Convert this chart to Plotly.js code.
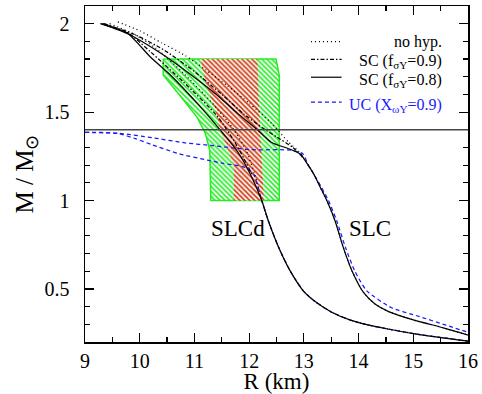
<!DOCTYPE html>
<html><head><meta charset="utf-8">
<script src="https://cdn.plot.ly/plotly-3.0.1.min.js"></script>
<style>html,body{margin:0;padding:0;background:#fff}</style>
</head><body><div id="chart" style="width:482px;height:394px"></div>
<script>
const FONT = "Liberation Serif, serif";

// constraint regions (R in km, M in Msun)
const greenR = [10.43, 12.49, 12.55, 12.55, 11.30, 11.28, 11.20, 11.05, 10.80, 10.43, 10.43];
const greenM = [1.80, 1.80, 1.71, 1.00, 1.00, 1.284, 1.38, 1.47, 1.568, 1.71, 1.80];
const redR = [11.11, 12.15, 12.20, 12.27, 11.72, 11.72, 11.62, 11.47, 11.38, 11.22, 11.11];
const redM = [1.80, 1.80, 1.40, 1.00, 1.00, 1.20, 1.28, 1.40, 1.51, 1.65, 1.80];

const NS_MASS = 1.4;

// shared nucleonic low-mass branches
const slcdLowR = [12.23, 12.35, 12.54, 12.75, 12.99, 13.2, 13.5, 13.84, 14.15, 14.51, 15.06, 16.0];
const slcdLowM = [1.0, 0.886, 0.735, 0.602, 0.489, 0.43, 0.37, 0.325, 0.298, 0.275, 0.245, 0.205];
const slcLowR = [13.1, 13.18, 13.3, 13.42, 13.57, 13.72, 13.88, 14.09, 14.3, 14.55, 15.0, 15.55, 16.0];
const slcLowM = [1.19, 1.15, 1.075, 1.0, 0.886, 0.735, 0.602, 0.48, 0.415, 0.372, 0.325, 0.28, 0.239];

// SLCd model, high-mass parts
const slcdNoHypR = [9.45, 9.9, 10.3, 10.8, 11.3, 11.7, 11.95, 12.1];
const slcdNoHypM = [2.0, 1.94, 1.86, 1.72, 1.56, 1.41, 1.28, 1.15];
const slcdSC09R = [9.33, 9.8, 10.2, 10.8, 11.41, 11.72, 11.9, 12.05];
const slcdSC09M = [2.0, 1.945, 1.84, 1.67, 1.48, 1.34, 1.24, 1.15];
const slcdSC08R = [9.28, 9.77, 10.2, 10.56, 11.11, 11.47, 11.78, 12.02];
const slcdSC08M = [2.0, 1.947, 1.81, 1.71, 1.53, 1.40, 1.28, 1.15];
const slcdUCR = [9.0, 9.3, 9.62, 9.92, 10.23, 10.71, 11.26, 11.53, 11.9, 12.08];
const slcdUCM = [1.385, 1.385, 1.378, 1.35, 1.315, 1.265, 1.227, 1.21, 1.19, 1.15];

// SLC model, high-mass parts
const slcNoHypR = [9.6, 10.0, 10.41, 10.83, 11.2, 11.6, 12.0, 12.4, 12.72, 12.9, 13.0];
const slcNoHypM = [2.01, 1.96, 1.89, 1.82, 1.74, 1.65, 1.55, 1.44, 1.33, 1.28, 1.237];
const slcSC09R = [9.35, 9.9, 10.45, 11.0, 11.5, 11.9, 12.25, 12.5, 12.8, 13.0];
const slcSC09M = [2.0, 1.94, 1.85, 1.73, 1.6, 1.49, 1.41, 1.36, 1.30, 1.237];
const slcSC08R = [9.3, 9.8, 10.4, 10.9, 11.4, 11.8, 12.15, 12.4, 12.75, 12.95, 13.0];
const slcSC08M = [2.0, 1.94, 1.83, 1.72, 1.6, 1.49, 1.40, 1.33, 1.29, 1.26, 1.237];
const slcUCR = [9.0, 9.62, 10.23, 10.83, 11.35, 12.02, 12.75, 12.98, 13.08, 13.2, 13.32, 13.45, 13.6, 13.76, 13.93, 14.15, 14.6, 15.1, 15.6, 16.0];
const slcUCM = [1.385, 1.38, 1.355, 1.326, 1.31, 1.288, 1.285, 1.265, 1.2, 1.14, 1.075, 1.0, 0.886, 0.735, 0.602, 0.489, 0.394, 0.345, 0.295, 0.255];

const legendNames = ['no hyp.', 'SC (f<sub>σY</sub>=0.9)', 'SC (f<sub>σY</sub>=0.8)', 'UC (X<sub>ωY</sub>=0.9)'];

const DOT = '1px,3px', DASHDOT = '4px,2px,1.5px,2px', DASH = '4px,3px';
const GREEN = '#22ee22', RED = '#d03208', BLUE = '#1a1aff';

function line(x, y, dash, color, w) {
  return {x: x, y: y, type: 'scatter', mode: 'lines', hoverinfo: 'skip', showlegend: false,
    line: {color: color, width: w || 1.25, dash: dash, shape: 'spline', smoothing: 0.6}};
}
const cat = (a, b) => a.concat(b);

const traces = [
  {x: greenR, y: greenM, type: 'scatter', mode: 'lines', fill: 'toself', showlegend: false, hoverinfo: 'skip',
   line: {color: GREEN, width: 1.5}, fillcolor: 'rgba(0,0,0,0)',
   fillpattern: {shape: '\\', fgcolor: GREEN, bgcolor: 'white', size: 3.5, solidity: 0.45, fillmode: 'replace'}},
  {x: redR, y: redM, type: 'scatter', mode: 'lines', fill: 'toself', showlegend: false, hoverinfo: 'skip',
   line: {color: 'rgba(0,0,0,0)', width: 0}, fillcolor: 'rgba(0,0,0,0)',
   fillpattern: {shape: '\\', fgcolor: RED, bgcolor: 'white', size: 3.5, solidity: 0.45, fillmode: 'replace'}},
  line(cat(slcdUCR, slcdLowR), cat(slcdUCM, slcdLowM), DASH, BLUE),
  line(slcUCR, slcUCM, DASH, BLUE),
  line(cat(slcdNoHypR, slcdLowR), cat(slcdNoHypM, slcdLowM), DOT, 'black'),
  line(slcdSC09R, slcdSC09M, DASHDOT, 'black'),
  line(cat(slcdSC08R, slcdLowR), cat(slcdSC08M, slcdLowM), 'solid', 'black'),
  line(cat(slcNoHypR, slcLowR), cat(slcNoHypM, slcLowM), DOT, 'black'),
  line(slcSC09R, slcSC09M, DASHDOT, 'black'),
  line(cat(slcSC08R, slcLowR), cat(slcSC08M, slcLowM), 'solid', 'black')
];

// legend (drawn manually to match right-aligned text)
const legY = [0.894, 0.841, 0.788, 0.714];
const legTextY = [0.894, 0.834, 0.778, 0.704];
const legDash = [DOT, DASHDOT, 'solid', DASH];
const legColor = ['black', 'black', 'black', BLUE];
const shapes = [
  {type: 'line', xref: 'paper', x0: 0, x1: 1, yref: 'y', y0: NS_MASS, y1: NS_MASS,
   line: {color: '#444', width: 1.5}}
];
const annotations = [];
for (let i = 0; i < legendNames.length; i++) {
  shapes.push({type: 'line', xref: 'paper', yref: 'paper', x0: 0.590, x1: 0.670, y0: legY[i], y1: legY[i],
    line: {color: legColor[i], width: 1.2, dash: legDash[i]}});
  annotations.push({xref: 'paper', yref: 'paper', x: 0.937, y: legTextY[i], xanchor: 'right', yanchor: 'middle',
    text: legendNames[i], showarrow: false, font: {family: FONT, size: 16, color: legColor[i]}});
}
annotations.push({x: 11.8, y: 0.84, text: 'SLCd', showarrow: false, font: {family: FONT, size: 23, color: 'black'}});
annotations.push({x: 14.2, y: 0.84, text: 'SLC', showarrow: false, font: {family: FONT, size: 23, color: 'black'}});

const axisCommon = {showgrid: false, zeroline: false, showline: true, linecolor: 'black', linewidth: 1.5,
  mirror: 'ticks', ticks: 'inside', ticklen: 9, tickwidth: 1.2, tickcolor: 'black',
  tickfont: {family: FONT, size: 20, color: 'black'}};

const layout = {
  width: 482, height: 394,
  margin: {l: 85, r: 14, t: 6, b: 52},
  paper_bgcolor: 'white', plot_bgcolor: 'white',
  showlegend: false,
  font: {family: FONT},
  xaxis: Object.assign({}, axisCommon, {range: [9, 16], dtick: 1, tick0: 9,
    minor: {dtick: 0.5, ticks: 'inside', ticklen: 5, tickwidth: 1.2, tickcolor: 'black'},
    title: {text: 'R (km)', font: {family: FONT, size: 23, color: 'black'}, standoff: 2}}),
  yaxis: Object.assign({}, axisCommon, {range: [0.2, 2.1], dtick: 0.5, tick0: 0,
    minor: {dtick: 0.1, ticks: 'inside', ticklen: 5, tickwidth: 1.2, tickcolor: 'black'},
    ticklabelstandoff: 10,
    title: {text: 'M / M<sub>⊙</sub>', font: {family: FONT, size: 25, color: 'black'}, standoff: 4}}),
  shapes: shapes,
  annotations: annotations
};

Plotly.newPlot('chart', traces, layout, {displayModeBar: false, staticPlot: true});
</script>
</body></html>
